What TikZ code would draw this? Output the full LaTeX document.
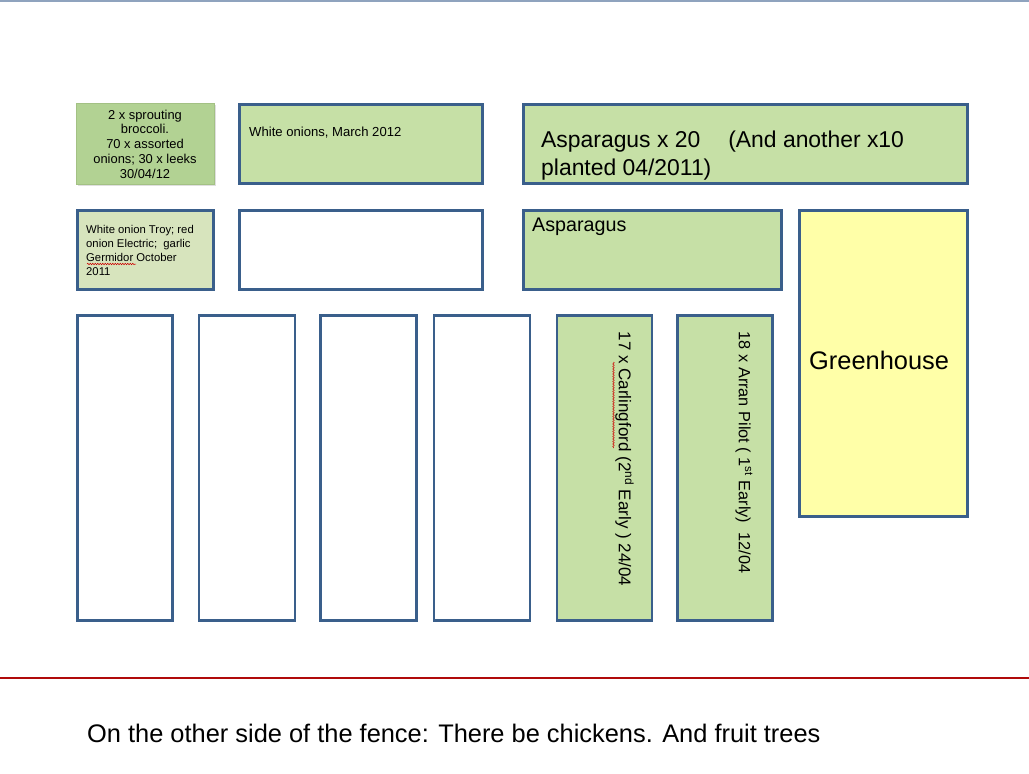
\documentclass[tikz,border=0pt]{standalone}
\usepackage{fontspec}
\setmainfont{Liberation Sans}
\usetikzlibrary{shadows,decorations.pathmorphing}
\definecolor{bedgreen}{HTML}{C6E0A6}
\definecolor{brocc}{HTML}{B2D293}
\definecolor{broccedge}{HTML}{A3C184}
\definecolor{paleg}{HTML}{D7E4BD}
\definecolor{edge}{HTML}{3A5F8B}
\definecolor{ghouse}{HTML}{FFFFA8}
\definecolor{fence}{HTML}{B00A0A}
\definecolor{topline}{HTML}{8FA3BE}
\tikzset{
  bed/.style={draw=edge, line width=2.6pt, anchor=north west, inner sep=0pt, outer sep=0pt},
  lbl/.style={inner sep=0pt, text=black},
  squiggle/.style={red!80!black, line width=0.5pt, decorate, decoration={snake, amplitude=0.8pt, segment length=2.5pt}},
}
\begin{document}
\begin{tikzpicture}[x=1pt,y=-1pt]
\useasboundingbox[fill=white] (0,0) rectangle (1029,774);
% top line
\coordinate (tl) at (0,0.8);
\coordinate (tr) at (1029,0.8);
\draw[topline, line width=1.6pt] (tl) -- (tr);
% fence line
\coordinate (fl) at (0,678);
\coordinate (fr) at (1029,678);
\draw[fence, line width=1.8pt] (fl) -- (fr);

% row 1
\node[anchor=north west, fill=brocc, draw=broccedge, line width=0.6pt, minimum width=138pt, minimum height=81pt, inner sep=0pt,
      drop shadow={opacity=0.25, shadow xshift=1.2pt, shadow yshift=-1.2pt}] (b1) at (76,103) {};
\node[lbl, align=center, font=\fontsize{12.9}{14.8}\selectfont, anchor=north] (t1) at (145,109.5) {2 x sprouting\\broccoli.\\70 x assorted\\onions; 30 x leeks\\30/04/12};
\node[bed, fill=bedgreen, minimum width=243pt, minimum height=79pt] (b2) at (239.5,104.5) {};
\node[lbl, anchor=west, font=\fontsize{13.1}{15}\selectfont] (t2) at (249,133) {White onions, March 2012};
\node[bed, fill=bedgreen, minimum width=444pt, minimum height=79pt] (b3) at (523.5,104.5) {};
\node[lbl, anchor=north west, align=left, font=\fontsize{22.9}{28}\selectfont] (t3) at (541,131) {Asparagus x 20\hspace{28pt}(And another x10\\planted 04/2011)};

% row 2
\node[bed, fill=paleg, minimum width=136pt, minimum height=79pt] (b4) at (77.5,210.5) {};
\node[lbl, anchor=north west, align=left, font=\fontsize{11.3}{13.8}\selectfont] (t4) at (86,225.5) {White onion Troy; red\\onion Electric;~ garlic\\Germidor October\\2011};
\coordinate (g1) at (87,264);
\coordinate (g2) at (136,264);
\draw[squiggle] (g1) -- (g2);
\node[bed, fill=white, minimum width=243pt, minimum height=79pt] (b5) at (239.5,210.5) {};
\node[bed, fill=bedgreen, minimum width=258pt, minimum height=79pt] (b6) at (523.5,210.5) {};
\node[lbl, anchor=west, font=\fontsize{19.7}{22}\selectfont] (t6) at (532,226.5) {Asparagus};
\node[bed, fill=ghouse, minimum width=168pt, minimum height=306pt] (b7) at (799.5,210.5) {};
\node[lbl, anchor=west, font=\fontsize{25.4}{28}\selectfont] (t7) at (809,360) {Greenhouse};

% row 3
\node[bed, fill=white, minimum width=95pt, minimum height=305pt] (b8) at (77.5,315.5) {};
\node[bed, fill=white, minimum width=96pt, minimum height=305pt] (b9) at (199,315.5) {};
\node[bed, fill=white, minimum width=96pt, minimum height=305pt] (b10) at (320.5,315.5) {};
\node[bed, fill=white, minimum width=96pt, minimum height=305pt] (b11) at (434,315.5) {};
\node[bed, fill=bedgreen, minimum width=95pt, minimum height=305pt] (b12) at (557,315.5) {};
\node[bed, fill=bedgreen, minimum width=95pt, minimum height=305pt] (b13) at (677.5,315.5) {};
\node[lbl, rotate=-90, font=\fontsize{17}{20}\selectfont] (t12) at (624.5,459) {17 x Carlingford (2\textsuperscript{nd} Early ) 24/04};
\coordinate (c1) at (613.5,362);
\coordinate (c2) at (613.5,448);
\draw[squiggle] (c1) -- (c2);
\node[lbl, rotate=-90, font=\fontsize{16.3}{20}\selectfont] (t13) at (744,452.5) {18 x Arran Pilot ( 1\textsuperscript{st} Early)~ 12/04};

% bottom text
\node[lbl, anchor=west, font=\fontsize{25.4}{28}\selectfont] (bt) at (87,733) {On the other side of the fence: There be chickens. And fruit trees};
\end{tikzpicture}
\end{document}
